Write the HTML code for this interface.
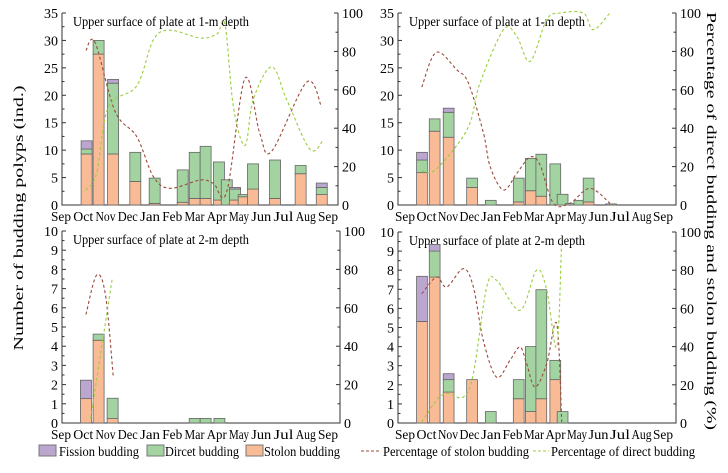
<!DOCTYPE html>
<html><head><meta charset="utf-8">
<style>
html,body{margin:0;padding:0;background:#fff;}
svg, svg text{font-family:"Liberation Serif","Noto Serif CJK SC","DejaVu Serif",serif;}
</style></head>
<body>
<svg id="chart" width="728" height="468" viewBox="0 0 728 468" xmlns="http://www.w3.org/2000/svg">
<text x="23" y="218" font-size="14" text-anchor="middle" textLength="265" lengthAdjust="spacingAndGlyphs" transform="rotate(-90 23 218)">Number of budding polyps (ind.)</text>
<text x="707" y="221" font-size="14" text-anchor="middle" textLength="418" lengthAdjust="spacingAndGlyphs" transform="rotate(90 707 221)">Percentage of direct budding and stolon budding (%)</text>
<g>
<rect x="39" y="445" width="17" height="11" fill="#bba6cf" stroke="#777"/>
<text x="59" y="456" font-size="14" textLength="80" lengthAdjust="spacingAndGlyphs">Fission budding</text>
<rect x="147" y="445" width="17" height="11" fill="#a2d3a0" stroke="#777"/>
<text x="165" y="456" font-size="14" textLength="74" lengthAdjust="spacingAndGlyphs">Dircet budding</text>
<rect x="246" y="445" width="17" height="11" fill="#f9bb96" stroke="#777"/>
<text x="264" y="456" font-size="14" textLength="76" lengthAdjust="spacingAndGlyphs">Stolon budding</text>
<line x1="361" y1="451" x2="381" y2="451" stroke="#9b4a3a" stroke-dasharray="3,2"/>
<text x="383" y="456" font-size="14" textLength="146" lengthAdjust="spacingAndGlyphs">Percentage of stolon budding</text>
<line x1="533" y1="451" x2="549" y2="451" stroke="#9acd40" stroke-dasharray="3,2"/>
<text x="551" y="456" font-size="14" textLength="144" lengthAdjust="spacingAndGlyphs">Percentage of direct budding</text>
</g>
</svg>
<script>
const months = ["Sep","Oct","Nov","Dec","Jan","Feb","Mar","Apr","May","Jun","Jul","Aug","Sep"];
// Panel TL: 1-m depth (left)
const tlPos = [1.15,1.69,2.34,3.34,4.21,5.47,6.01,6.5,7.1,7.45,7.82,8.21,8.63,9.62,10.77,11.72];
const tlStolon = [9.3,27.5,9.3,4.3,0.3,0.5,1.2,1.2,0.9,0,0.9,1.5,2.9,1.2,5.7,1.9];
const tlDirect = [0.9,2.5,12.9,5.3,4.6,5.9,8.4,9.5,6.95,4.6,2.0,0.4,4.6,7.0,1.5,1.3];
const tlFission = [1.5,0,0.7,0,0,0,0,0,0,0,0.3,0,0,0,0,0.8];
const tlStolonPctX = [1.12,1.53,2.43,3.4,4.15,4.9,6.25,6.85,7.45,8.27,8.94,9.47,11.04,11.71];
const tlStolonPct = [80.5,84.7,48.7,35.7,14.8,8.7,13,11.3,7,66,37,28,64,51];
const tlDirectPctX = [1.12,1.6,2.13,3.4,4.15,4.9,6.25,7.0,7.37,7.75,8.27,8.64,9.47,10.14,11.19,11.79];
const tlDirectPct = [7.8,16.5,51,62,86,91,87,89,94,51,31,55,72,55,29,34];
// Panel TR
const trPos = [0.79,1.38,2.03,3.12,3.99,5.29,5.85,6.34,6.99,7.33,7.71,8.11,8.54,9.58];
const trStolon = [5.9,13.45,12.35,3.2,0,0.55,2.6,1.6,0,0,0,0,0.55,0];
const trDirect = [2.3,2.25,4.55,1.7,0.85,4.35,5.9,7.65,7.5,1.95,0.25,0.85,4.35,0.2];
const trFission = [1.4,0,0.75,0,0,0,0,0,0,0,0,0,0,0];
const trStolonPctX = [0.78,1.45,2.41,2.95,3.65,3.96,4.58,5.2,5.82,6.28,6.9,7.67,8.6,9.53];
const trStolonPct = [61.4,79.5,70.4,63.5,37.4,20,7.8,16.5,25,20.9,0.9,0.9,8.7,0.9];
const trDirectPctX = [0.78,1.3,2.25,3.02,3.49,4.58,5.2,5.82,6.59,7.21,8.29,8.76,9.53];
const trDirectPct = [18,17.4,28.7,42.6,63.5,91.3,87.8,74.8,96.5,100,100,91.3,100];
// Panel BL: 2-m depth (left)
const blPos = [1.12,1.69,2.32,6.01,6.5,7.12];
const blStolon = [1.27,4.31,0.23,0,0,0];
const blDirect = [0,0.32,1.06,0.24,0.24,0.24];
const blFission = [0.96,0,0,0,0,0];
const blStolonPctX = [1.12,1.6,2.0,2.35];
const blStolonPct = [56.5,77,66.6,24];
const blDirectPctX = [1.33,1.7,2.3];
const blDirectPct = [2.3,30,75];
// Panel BR
const brPos = [0.79,1.38,2.03,3.12,3.99,5.29,5.85,6.34,6.99,7.33];
const brStolon = [5.32,7.64,1.62,2.27,0,1.27,0.6,1.27,2.27,0];
const brDirect = [0,1.36,0.65,0,0.6,1.0,3.4,5.71,1.01,0.6];
const brFission = [2.36,0.35,0.31,0,0,0,0,0,0,0];
const brStolonPctX = [0.78,1.47,1.94,2.71,3.18,3.64,4.26,4.88,5.35,5.66,6.05,6.59,7.06,7.29];
const brStolonPct = [67.7,76.4,71.2,80.8,71.2,43.3,24,32.8,39.8,31,18.8,31,52,0.5];
const brDirectPctX = [0.78,1.47,1.94,2.71,3.18,3.8,4.26,5.35,6.12,6.59,7.06,7.29];
const brDirectPct = [0.5,11.9,15.4,13.6,25.8,71.2,74.7,59,80,69.8,40,97.4];

const NS="http://www.w3.org/2000/svg";
const svg=document.getElementById('chart');
function mk(tag,attrs,parent){const e=document.createElementNS(NS,tag);for(const k in attrs)e.setAttribute(k,attrs[k]);(parent||svg).appendChild(e);return e;}
function spline(pts){
  let d="M"+pts[0][0]+","+pts[0][1];
  for(let i=0;i<pts.length-1;i++){
    const p0=pts[Math.max(0,i-1)],p1=pts[i],p2=pts[i+1],p3=pts[Math.min(pts.length-1,i+2)];
    const c1=[p1[0]+(p2[0]-p0[0])/6,p1[1]+(p2[1]-p0[1])/6];
    const c2=[p2[0]-(p3[0]-p1[0])/6,p2[1]-(p3[1]-p1[1])/6];
    d+=" C"+c1.join(",")+" "+c2.join(",")+" "+p2.join(",");
  }
  return d;
}
function panel(cfg){
  const g=mk('g',{});
  
  
  const L=cfg.L,R=cfg.R,T=cfg.T,B=cfg.B;
  const xm=m=>cfg.x0+m*cfg.dx;
  const yv=v=>B-(v/cfg.ymax)*(B-T);
  const yp=p=>B-(p/100)*(B-T);
  const ax=mk('path',{d:`M${L},${T} L${L},${B} L${R},${B} L${R},${T}`,fill:'none',stroke:'#333','stroke-width':1},g);
  
  
  for(let v=0;v<=cfg.ymax+1e-9;v+=cfg.minor){
    const y=yv(v);
    const major=Math.abs(v/cfg.major-Math.round(v/cfg.major))<1e-6;
    mk('line',{x1:L,y1:y,x2:L+(major?4:2.5),y2:y,stroke:'#333'},g);
    if(major){
      const t=mk('text',{x:L-4,y:y+5,'font-size':14,'text-anchor':'end'},g);
      t.textContent=Math.round(v);
      
      
    }
  }
  for(let p=0;p<=100;p+=10){
    const y=yp(p);
    mk('line',{x1:R,y1:y,x2:R-(p%20===0?4:2.5),y2:y,stroke:'#333'},g);
    if(p%20===0){
      const t=mk('text',{x:R+4,y:y+5,'font-size':14},g);
      t.textContent=p;
      
      
    }
  }
  months.forEach((mo,i)=>{
    const t=mk('text',{x:xm(i),y:B+16,'font-size':13.5,'text-anchor':'middle',textLength:20,lengthAdjust:'spacingAndGlyphs'},g);
    t.textContent=mo;
    
    
  });
  const title=mk('text',{x:L+11,y:T+13,'font-size':14,textLength:176,lengthAdjust:'spacingAndGlyphs'},g);
  title.textContent=cfg.title;
  
  
  const bw=cfg.bw;
  cfg.pos.forEach((m,i)=>{
    const x=xm(m)-bw/2;
    let base=0;
    [[cfg.st[i],'#f9bb96','stolon'],[cfg.di[i],'#a2d3a0','direct'],[cfg.fi[i],'#bba6cf','fission']].forEach(s=>{
      if(s[0]<=0)return;
      const y1=yv(base+s[0]),y0=yv(base);
      const r=mk('rect',{x:x,y:y1,width:bw,height:y0-y1,fill:s[1],stroke:'#666','stroke-width':0.8},g);
      
      
      base+=s[0];
    });
  });
  const sp=mk('path',{d:spline(cfg.spx.map((m,i)=>[xm(m),yp(cfg.sp[i])])),fill:'none',stroke:'#9b4a3a','stroke-width':1.1,'stroke-dasharray':'3,2.5'},g);
  
  
  const dp=mk('path',{d:spline(cfg.dpx.map((m,i)=>[xm(m),yp(cfg.dp[i])])),fill:'none',stroke:'#9acd40','stroke-width':1.1,'stroke-dasharray':'3,2.5'},g);
  
  
}
panel({name:'panel-1m-left',L:62,R:338,T:13,B:205,x0:61,dx:22.25,ymax:35,major:5,minor:2.5,bw:11,title:'Upper surface of plate at 1-m depth',pos:tlPos,st:tlStolon,di:tlDirect,fi:tlFission,spx:tlStolonPctX,sp:tlStolonPct,dpx:tlDirectPctX,dp:tlDirectPct});
panel({name:'panel-1m-right',L:398,R:676,T:13,B:205,x0:405,dx:21.5,ymax:35,major:5,minor:2.5,bw:10.8,title:'Upper surface of plate at 1-m depth',pos:trPos,st:trStolon,di:trDirect,fi:trFission,spx:trStolonPctX,sp:trStolonPct,dpx:trDirectPctX,dp:trDirectPct});
panel({name:'panel-2m-left',L:62,R:340,T:231,B:423,x0:61,dx:22.25,ymax:10,major:1,minor:0.5,bw:11,title:'Upper surface of plate at 2-m depth',pos:blPos,st:blStolon,di:blDirect,fi:blFission,spx:blStolonPctX,sp:blStolonPct,dpx:blDirectPctX,dp:blDirectPct});
panel({name:'panel-2m-right',L:398,R:676,T:232,B:423,x0:405,dx:21.5,ymax:10,major:1,minor:0.5,bw:10.8,title:'Upper surface of plate at 2-m depth',pos:brPos,st:brStolon,di:brDirect,fi:brFission,spx:brStolonPctX,sp:brStolonPct,dpx:brDirectPctX,dp:brDirectPct});
</script>
</body></html>
